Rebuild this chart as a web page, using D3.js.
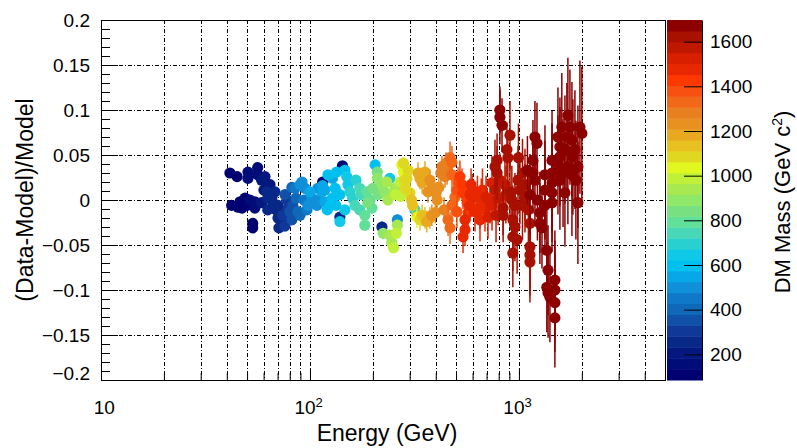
<!DOCTYPE html>
<html>
<head>
<meta charset="utf-8">
<script src="https://cdn.jsdelivr.net/npm/d3@7"></script>
<style>
  body { margin: 0; background: #fff; }
  svg { display: block; }
  text { font-family: "Liberation Sans", Arial, Helvetica, sans-serif; fill: #000; }
</style>
</head>
<body>
<svg id="chart" width="797" height="448"></svg>
<script>
// ---- data --------------------------------------------------------------
// Each point: [energy (GeV), (data-model)/model, error, DM mass (GeV)]
const pointsLowMass = [
  [41.4, 0.030, 0.003, 110], [44.8, 0.026, 0.003, 110], [42.2, -0.006, 0.003, 100],
  [45.3, -0.008, 0.003, 100], [47.3, -0.009, 0.003, 120], [48.9, 0.002, 0.003, 120],
  [50.0, -0.006, 0.003, 130], [50.5, 0.031, 0.003, 160], [50.5, 0.024, 0.003, 160],
  [53.2, -0.026, 0.003, 100], [53.2, -0.031, 0.003, 100], [54.5, -0.002, 0.003, 150],
  [54.5, -0.009, 0.003, 150], [56.2, 0.036, 0.003, 180], [56.2, 0.028, 0.003, 180],
  [58.7, 0.022, 0.003, 200], [60.9, 0.026, 0.003, 220], [60.2, 0.011, 0.003, 200],
  [62.2, 0.009, 0.003, 250], [62.8, 0.002, 0.003, 250], [65.7, 0.003, 0.003, 260],
  [68.0, 0.009, 0.003, 280], [70.3, -0.006, 0.003, 260], [71.8, -0.013, 0.003, 250],
  [70.3, -0.020, 0.003, 240], [73.4, -0.024, 0.003, 270], [74.2, -0.017, 0.003, 300],
  [71.0, -0.031, 0.003, 260], [77.6, 0.000, 0.003, 320], [78.5, -0.009, 0.003, 320],
  [82.7, -0.006, 0.003, 350], [81.9, 0.014, 0.003, 380], [84.8, 0.013, 0.003, 450],
  [89.6, 0.017, 0.003, 480], [91.6, 0.020, 0.003, 500], [94.6, 0.013, 0.003, 520],
  [87.6, -0.013, 0.003, 420], [89.6, -0.017, 0.003, 420], [97.8, -0.006, 0.003, 500],
  [102, 0.002, 0.003, 520], [100, 0.009, 0.003, 540], [108, -0.006, 0.003, 480],
  [109, 0.013, 0.003, 520], [115, 0.020, 0.003, 120], [118, 0.011, 0.003, 560],
  [118, -0.002, 0.003, 560], [125, -0.006, 0.003, 580], [121, -0.011, 0.003, 600],
  [128, 0.024, 0.003, 560], [134, 0.031, 0.003, 600], [143, 0.038, 0.003, 150],
  [147, 0.033, 0.003, 620], [150, 0.026, 0.004, 640], [132, 0.013, 0.003, 600],
  [139, 0.006, 0.003, 620], [139, -0.019, 0.003, 250], [139, -0.024, 0.003, 640],
  [64.4, 0.017, 0.003, 230], [66.5, -0.003, 0.003, 270], [68.8, -0.011, 0.003, 280],
  [75.9, 0.006, 0.003, 330], [80.2, -0.013, 0.003, 340], [81.9, -0.022, 0.003, 330],
  [75.9, -0.029, 0.003, 300], [85.7, 0.002, 0.003, 400], [62.8, -0.011, 0.003, 240],
  [58.7, -0.003, 0.003, 200], [51.6, 0.000, 0.003, 140], [46.3, -0.002, 0.003, 110],
  [93.6, 0.000, 0.003, 460], [96.7, -0.011, 0.003, 470], [109, 0.000, 0.003, 520],
  [114, 0.009, 0.003, 540], [115, 0.016, 0.003, 540], [128, 0.002, 0.003, 600],
  [133, -0.006, 0.003, 610], [122, 0.028, 0.003, 580], [152, 0.017, 0.004, 660],
  [155, 0.009, 0.004, 680], [147, -0.011, 0.004, 660]
];

const pointsMidMass = [
  [160, 0.002, 0.006, 720], [164, -0.006, 0.006, 740], [173, -0.011, 0.006, 760],
  [183, -0.017, 0.006, 780], [183, -0.028, 0.006, 800], [173, 0.013, 0.006, 760],
  [187, 0.009, 0.006, 800], [200, 0.013, 0.006, 820], [205, 0.039, 0.006, 600],
  [210, 0.031, 0.006, 860], [210, 0.024, 0.006, 880], [189, -0.003, 0.006, 840],
  [221, 0.017, 0.006, 900], [233, 0.020, 0.006, 920], [241, 0.024, 0.006, 650],
  [255, 0.013, 0.006, 940], [251, 0.006, 0.006, 960], [221, -0.030, 0.006, 250],
  [224, -0.037, 0.006, 880], [241, -0.039, 0.006, 920], [246, -0.047, 0.006, 960],
  [251, -0.053, 0.006, 1000], [262, -0.022, 0.006, 500], [262, -0.028, 0.006, 950],
  [259, -0.037, 0.006, 980], [275, 0.039, 0.006, 1050], [280, 0.031, 0.006, 1050],
  [291, 0.024, 0.006, 1080], [285, 0.013, 0.006, 1080], [280, 0.041, 0.006, 1100],
  [285, 0.022, 0.006, 1100], [301, 0.008, 0.012, 1100], [318, -0.011, 0.012, 700],
  [325, -0.019, 0.012, 1050], [336, -0.022, 0.012, 1100], [355, -0.020, 0.012, 1140],
  [375, -0.020, 0.012, 1180], [383, -0.017, 0.012, 1220], [329, 0.030, 0.012, 1180],
  [336, 0.024, 0.012, 1180], [355, 0.031, 0.012, 1200], [344, 0.019, 0.012, 1170],
  [166, 0.022, 0.006, 700], [175, 0.006, 0.006, 740], [194, 0.000, 0.006, 800],
  [198, -0.009, 0.006, 810], [212, 0.006, 0.006, 860], [228, 0.009, 0.006, 900],
  [236, 0.000, 0.006, 920], [270, 0.020, 0.006, 1000], [257, 0.006, 0.006, 980],
  [272, 0.004, 0.006, 1000], [295, 0.033, 0.008, 1100], [306, 0.000, 0.012, 1120],
  [310, -0.006, 0.012, 1120], [344, -0.017, 0.012, 1130], [362, -0.024, 0.012, 1160]
];

const pointsHighMass = [
  [386, 0.013, 0.012, 1230], [402, 0.008, 0.012, 1240], [406, 0.000, 0.012, 1230],
  [423, 0.030, 0.012, 1260], [428, 0.037, 0.012, 1260], [448, 0.041, 0.012, 1280],
  [468, 0.047, 0.018, 1310], [478, 0.042, 0.018, 1320], [443, 0.026, 0.012, 1270],
  [458, -0.022, 0.018, 1320], [468, -0.031, 0.018, 1350], [494, 0.003, 0.018, 1350],
  [505, 0.011, 0.018, 1380], [511, 0.019, 0.018, 1400], [522, 0.026, 0.018, 1420],
  [534, 0.017, 0.018, 1420], [540, 0.008, 0.018, 1440], [565, -0.003, 0.018, 1450],
  [571, -0.014, 0.018, 1450], [552, -0.022, 0.018, 1460], [552, -0.033, 0.018, 1460],
  [540, -0.041, 0.018, 1480], [598, 0.011, 0.018, 1480], [633, 0.003, 0.024, 1500],
  [651, -0.008, 0.024, 1500], [669, 0.011, 0.024, 1500], [696, 0.003, 0.024, 1520],
  [727, -0.002, 0.024, 1520], [688, -0.011, 0.024, 1500], [711, -0.019, 0.024, 1520],
  [651, -0.022, 0.024, 1480], [583, 0.006, 0.018, 1460], [590, 0.017, 0.018, 1460],
  [743, 0.019, 0.030, 1550], [768, 0.011, 0.030, 1560], [795, 0.002, 0.030, 1570],
  [857, 0.017, 0.030, 1580], [906, 0.009, 0.038, 1600], [925, 0.000, 0.038, 1600],
  [1011, 0.011, 0.038, 1620], [1069, 0.002, 0.038, 1640], [1040, -0.006, 0.038, 1620],
  [1129, 0.006, 0.045, 1650], [1332, 0.011, 0.055, 1670], [1332, 0.028, 0.055, 1670],
  [1571, 0.022, 0.055, 1680], [1793, 0.028, 0.068, 1690], [990, 0.022, 0.038, 1620],
  [398, -0.014, 0.012, 1210], [375, 0.022, 0.012, 1210], [367, 0.009, 0.012, 1210],
  [414, 0.014, 0.012, 1250], [453, 0.033, 0.016, 1290], [478, 0.028, 0.018, 1310],
  [478, -0.006, 0.018, 1340], [505, -0.013, 0.018, 1380], [438, -0.011, 0.014, 1280],
  [583, -0.006, 0.018, 1460], [616, -0.013, 0.022, 1480], [660, 0.000, 0.024, 1500],
  [743, -0.006, 0.028, 1530], [777, -0.017, 0.030, 1560], [811, 0.022, 0.030, 1560],
  [866, 0.006, 0.032, 1580], [957, -0.006, 0.036, 1600], [1069, 0.017, 0.040, 1630],
  [1110, -0.011, 0.042, 1640], [1226, 0.000, 0.045, 1650], [1332, -0.006, 0.050, 1660]
];

const pointsTopMass = [
  [811, 0.100, 0.026, 1650], [811, 0.092, 0.030, 1650], [830, 0.083, 0.030, 1650],
  [906, 0.072, 0.038, 1640], [876, 0.056, 0.030, 1620], [885, 0.047, 0.030, 1620],
  [786, 0.044, 0.030, 1600], [768, 0.037, 0.030, 1600], [786, 0.030, 0.030, 1600],
  [995, 0.047, 0.038, 1620], [1040, 0.030, 0.038, 1640], [1098, 0.033, 0.038, 1660],
  [1193, 0.070, 0.040, 1680], [1220, 0.063, 0.045, 1680], [1167, 0.044, 0.045, 1660],
  [1167, 0.030, 0.045, 1660], [1193, 0.022, 0.045, 1650], [1440, 0.044, 0.055, 1680],
  [1440, 0.030, 0.055, 1680], [1440, 0.019, 0.055, 1680], [1440, -0.003, 0.055, 1680],
  [1537, 0.070, 0.055, 1680], [1571, 0.059, 0.055, 1680], [1604, 0.081, 0.060, 1690],
  [1696, 0.070, 0.060, 1690], [1715, 0.094, 0.064, 1690], [1754, 0.081, 0.064, 1690],
  [1793, 0.067, 0.064, 1690], [1813, 0.048, 0.064, 1690], [1571, 0.048, 0.055, 1680],
  [1626, 0.030, 0.060, 1680], [1715, 0.037, 0.064, 1690], [1958, 0.081, 0.074, 1690],
  [2000, 0.074, 0.074, 1690], [1915, 0.037, 0.068, 1690], [1915, -0.003, 0.068, 1690],
  [840, -0.009, 0.030, 1600], [840, -0.017, 0.030, 1600], [935, -0.022, 0.038, 1620],
  [957, -0.030, 0.038, 1620], [935, -0.041, 0.038, 1620], [980, -0.044, 0.038, 1620],
  [935, -0.059, 0.038, 1620], [1129, -0.052, 0.045, 1640], [1129, -0.061, 0.045, 1640],
  [1129, -0.069, 0.045, 1640], [1129, -0.026, 0.045, 1640], [1260, -0.014, 0.045, 1660],
  [1260, -0.026, 0.045, 1660], [1289, -0.031, 0.045, 1660], [1360, -0.056, 0.050, 1680],
  [1378, -0.078, 0.050, 1680], [1360, -0.097, 0.050, 1680], [1378, -0.103, 0.050, 1680],
  [1407, -0.108, 0.050, 1680], [1486, -0.089, 0.055, 1690], [1486, -0.100, 0.055, 1690],
  [1486, -0.114, 0.055, 1690], [1486, -0.131, 0.055, 1690], [1440, 0.008, 0.055, 1680],
  [1660, 0.008, 0.060, 1690], [1537, 0.039, 0.055, 1680], [1660, 0.056, 0.060, 1690],
  [1853, 0.056, 0.066, 1690], [1873, 0.022, 0.066, 1690]
];

// axis tick values and labels
const xMajorTicks = [10, 100, 1000];
const xMajorLabels = [["10", ""], ["10", "2"], ["10", "3"]];
const yMajorTicks = [-0.2, -0.15, -0.1, -0.05, 0, 0.05, 0.1, 0.15, 0.2];
const yMajorLabels = ["\u22120.2", "\u22120.15", "\u22120.1", "\u22120.05", "0", "0.05", "0.1", "0.15", "0.2"];
const massTicks = [200, 400, 600, 800, 1000, 1200, 1400, 1600];
const massRange = [85, 1697];

// colour palette bands, bottom (low mass) to top (high mass)
const paletteBands = [
  "#000070", "#000c78", "#041880", "#082888", "#103898", "#1050a8", "#1068b8",
  "#1078c8", "#1090d8", "#08a8e8", "#00c0f0", "#10c8e8", "#28d0d0", "#48d8b8",
  "#60e098", "#78e080", "#90e868", "#a8e850", "#c0f038", "#e0f820", "#e0d820",
  "#e8c020", "#e8a820", "#e89020", "#e88020", "#f06818", "#f85010", "#ff3800",
  "#e82800", "#d82000", "#c01800", "#a81000", "#8c0000"
];

// ---- layout ------------------------------------------------------------
const frame = { left: 101, right: 665, top: 20, bottom: 380 };
const cbar = { left: 667, right: 702 };

const svg = d3.select("#chart");

const x = d3.scaleLog().domain([10, 5000]).range([frame.left, frame.right]);
const y = d3.scaleLinear().domain([-0.2, 0.2]).range([frame.bottom, frame.top]);
const massY = d3.scaleLinear().domain(massRange).range([frame.bottom, frame.top]);

function bandColor(m) {
  const n = paletteBands.length;
  let i = Math.floor((m - massRange[0]) / (massRange[1] - massRange[0]) * n);
  i = Math.max(0, Math.min(n - 1, i));
  return paletteBands[i];
}

// ---- grid --------------------------------------------------------------
const gridX = x.ticks().filter(v => v > 10 && v < 5000);
const gridY = d3.range(-0.15, 0.151, 0.05);
const grid = svg.append("g")
  .attr("stroke", "#000").attr("stroke-width", 1)
  .attr("stroke-dasharray", "4,2,1,2").attr("fill", "none");
grid.selectAll("line.gx").data(gridX).join("line")
  .attr("class", "gx")
  .attr("x1", d => Math.round(x(d)) + 0.5).attr("x2", d => Math.round(x(d)) + 0.5)
  .attr("y1", frame.top).attr("y2", frame.bottom);
grid.selectAll("line.gy").data(gridY).join("line")
  .attr("class", "gy")
  .attr("y1", d => Math.round(y(d)) + 0.5).attr("y2", d => Math.round(y(d)) + 0.5)
  .attr("x1", frame.left).attr("x2", frame.right);

// ---- points (low masses first, heavier ones drawn on top) --------------
const allPoints = [...pointsLowMass, ...pointsMidMass, ...pointsHighMass, ...pointsTopMass]
  .map(([e, r, err, m]) => ({ e, r, err, m }))
  .sort((a, b) => a.m - b.m);

const marks = svg.append("g");
const pg = marks.selectAll("g").data(allPoints).join("g");
pg.append("line")
  .attr("x1", d => x(d.e)).attr("x2", d => x(d.e))
  .attr("y1", d => y(d.r - d.err)).attr("y2", d => y(d.r + d.err))
  .attr("stroke", d => bandColor(d.m)).attr("stroke-width", 1.5);
pg.append("circle")
  .attr("cx", d => x(d.e)).attr("cy", d => y(d.r)).attr("r", 5.6)
  .attr("fill", d => bandColor(d.m));

// ---- frame -------------------------------------------------------------
svg.append("rect")
  .attr("x", frame.left + 0.5).attr("y", frame.top + 0.5)
  .attr("width", frame.right - frame.left).attr("height", frame.bottom - frame.top)
  .attr("fill", "none").attr("stroke", "#000").attr("stroke-width", 1);

// ---- x axis ------------------------------------------------------------
const xMinor = x.ticks().filter(v => !xMajorTicks.includes(v) && v < 5000);
svg.append("g").attr("transform", `translate(0,${frame.bottom})`)
  .call(d3.axisBottom(x).tickValues(xMinor).tickSizeInner(-7).tickSizeOuter(0).tickFormat(""))
  .call(g => g.select(".domain").remove());
const xAxis = svg.append("g").attr("transform", `translate(0,${frame.bottom})`)
  .call(d3.axisBottom(x).tickValues(xMajorTicks).tickSizeInner(-11).tickSizeOuter(0).tickPadding(21)
    .tickFormat(""));
xAxis.select(".domain").remove();
xAxis.selectAll(".tick").each(function (d, i) {
  const [base, sup] = xMajorLabels[i];
  const t = d3.select(this).select("text")
    .attr("font-size", 19).attr("dy", "0.71em").attr("fill", "#000")
    .attr("dx", sup ? "-0.1em" : "0.15em");
  t.text(null);
  t.append("tspan").text(base);
  if (sup) t.append("tspan").attr("font-size", 13).attr("dy", "-0.55em").text(sup);
});

// ---- y axis ------------------------------------------------------------
const yMinor = d3.range(-20, 21).map(k => k / 100).filter(v => Math.abs(Math.round(v * 100) % 5) !== 0);
svg.append("g").attr("transform", `translate(${frame.left},0)`)
  .call(d3.axisLeft(y).tickValues(yMinor).tickSizeInner(-9).tickSizeOuter(0).tickFormat(""))
  .call(g => g.select(".domain").remove());
const yAxis = svg.append("g").attr("transform", `translate(${frame.left},0)`)
  .call(d3.axisLeft(y).tickValues(yMajorTicks).tickSizeInner(-17).tickSizeOuter(0).tickPadding(11)
    .tickFormat((d, i) => yMajorLabels[i]));
yAxis.select(".domain").remove();
yAxis.selectAll("text").attr("font-size", 19).attr("fill", "#000");
yAxis.selectAll(".tick").filter(d => d === -0.2).select("text").attr("dy", "-0.05em");

// ---- colour bar --------------------------------------------------------
const nb = paletteBands.length;
const bandVals = d3.range(nb).map(i => massRange[0] + (massRange[1] - massRange[0]) * i / nb);
const bandStep = (massRange[1] - massRange[0]) / nb;
svg.append("g").selectAll("rect").data(bandVals).join("rect")
  .attr("x", cbar.left).attr("width", cbar.right - cbar.left)
  .attr("y", d => massY(d + bandStep)).attr("height", d => massY(d) - massY(d + bandStep) + 0.5)
  .attr("fill", (d, i) => paletteBands[i]);
const cAxis = svg.append("g").attr("transform", `translate(${cbar.right},0)`)
  .call(d3.axisRight(massY).tickValues(massTicks).tickSizeInner(-18).tickSizeOuter(0).tickPadding(8)
    .tickFormat(d3.format("d")));
cAxis.selectAll("text").attr("font-size", 19).attr("fill", "#000");

// ---- titles ------------------------------------------------------------
svg.append("text")
  .attr("x", 387).attr("y", 441).attr("text-anchor", "middle")
  .attr("font-size", 23).text("Energy (GeV)");
svg.append("text")
  .attr("transform", "translate(33,200) rotate(-90)")
  .attr("text-anchor", "middle").attr("font-size", 23).text("(Data-Model)/Model");
const ct = svg.append("text")
  .attr("transform", "translate(790,202) rotate(-90)")
  .attr("text-anchor", "middle").attr("font-size", 22);
ct.append("tspan").text("DM Mass (GeV c");
ct.append("tspan").attr("font-size", 14).attr("dy", "-0.6em").text("2");
ct.append("tspan").attr("dy", "0.4em").text(")");
</script>
</body>
</html>
